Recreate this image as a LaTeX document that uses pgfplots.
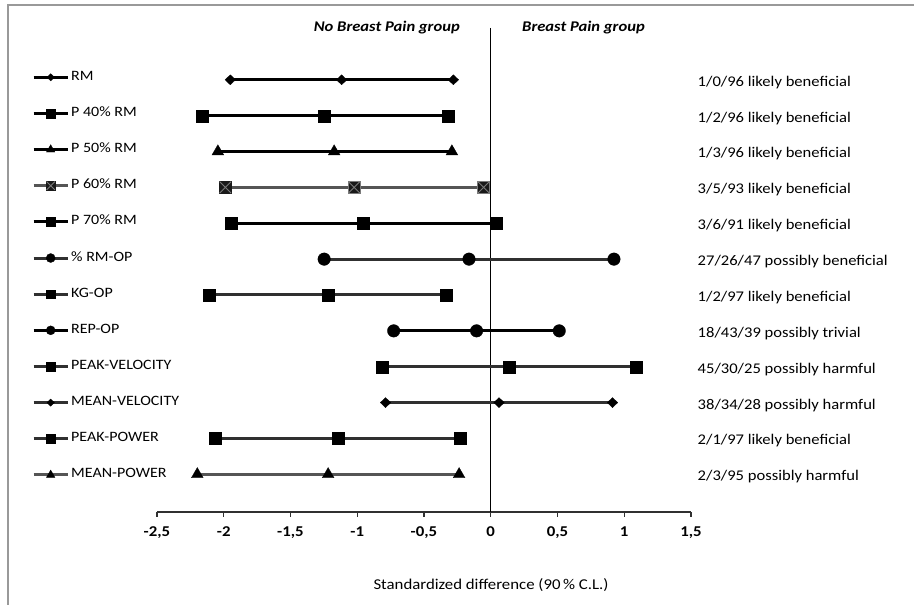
\documentclass[border=0pt]{standalone}
\usepackage{fontspec}
\setmainfont{Carlito}[FakeStretch=1.12]
\usepackage{pgfplots}
\pgfplotsset{compat=1.18}
\usetikzlibrary{plotmarks}
\definecolor{dgray}{HTML}{303030}
\definecolor{mgray}{HTML}{555555}
\definecolor{xgray}{HTML}{7A7A7A}
\newcommand\fs{\fontsize{14.8}{17}\selectfont}
\newcommand\fl{\fontsize{14.3}{16}\selectfont}
\newcommand\ft{\fontsize{15}{17}\selectfont}
\pgfdeclareplotmark{boxx}{%
  \pgfpathrectangle{\pgfqpoint{-\pgfplotmarksize}{-\pgfplotmarksize}}{\pgfqpoint{2\pgfplotmarksize}{2\pgfplotmarksize}}%
  \pgfusepathqfillstroke
  \pgfsetstrokecolor{xgray}%
  \pgfsetlinewidth{0.9pt}%
  \pgfpathmoveto{\pgfqpoint{-\pgfplotmarksize}{-\pgfplotmarksize}}%
  \pgfpathlineto{\pgfqpoint{\pgfplotmarksize}{\pgfplotmarksize}}%
  \pgfpathmoveto{\pgfqpoint{-\pgfplotmarksize}{\pgfplotmarksize}}%
  \pgfpathlineto{\pgfqpoint{\pgfplotmarksize}{-\pgfplotmarksize}}%
  \pgfusepathqstroke}
\pgfplotsset{
  ser/.style={line width=3pt},
  dia/.style={ser, mark=diamond*, mark size=5pt, mark options={solid, line width=0.3pt, xscale=1.4}},
  sq/.style={ser, mark=square*, mark size=6pt, mark options={solid, line width=0.3pt}},
  tri/.style={ser, mark=triangle*, mark size=6.8pt, mark options={solid, line width=0.3pt}},
  cir/.style={ser, mark=*, mark size=6.3pt, mark options={solid, line width=0.3pt}},
}
\begin{document}
\begin{tikzpicture}[font=\fs]
\useasboundingbox (0,0) rectangle (914pt,605pt);
\draw[black!40, line width=1.3pt] (8pt,0pt) -- (8pt,600pt) -- (914pt,600pt);
\begin{axis}[
  at={(157pt,93pt)}, anchor=south west, scale only axis,
  width=534pt, height=484pt,
  xmin=-2.5, xmax=1.5, ymin=-13.05, ymax=0.444,
  axis x line*=bottom, axis y line=none,
  x axis line style={line width=1.2pt, dgray},
  xtick={-2.5,-2,-1.5,-1,-0.5,0,0.5,1,1.5},
  xticklabels={{-2,5},{-2},{-1,5},{-1},{-0,5},{0},{0,5},{1},{1,5}},
  xticklabel style={font=\ft\bfseries, yshift=-6pt},
  tick align=outside, major tick length=5pt,
  every tick/.style={dgray, line width=1.2pt},
  clip=false,
  legend cell align=left,
  legend style={at={(-0.2341,0.911)}, anchor=north west, draw=none, fill=none,
    inner sep=0pt, row sep=24.15pt, column sep=2pt, font=\fl,
    nodes={inner sep=0pt, text height=9pt, text depth=3pt}},
  legend image code/.code={%
    \draw[mark repeat=2,mark phase=2,#1, every mark/.append style={scale=0.72}] plot coordinates {(0pt,0pt) (17pt,0pt) (34pt,0pt)};},
]
\addplot[forget plot, black, line width=1.3pt] coordinates {(0,0.444) (0,-13.05)};
\addplot[dia, black] coordinates {(-1.951,-1) (-1.117,-1) (-0.280,-1)};
\addlegendentry{RM}
\addplot[sq, black] coordinates {(-2.165,-2) (-1.248,-2) (-0.320,-2)};
\addlegendentry{P 40\% RM}
\addplot[tri, black] coordinates {(-2.044,-3) (-1.173,-3) (-0.291,-3)};
\addlegendentry{P 50\% RM}
\addplot[ser, mgray, mark=boxx, mark size=5.8pt, mark options={solid, line width=0.3pt, fill=black!90, draw=black!90}] coordinates {(-1.988,-4) (-1.023,-4) (-0.053,-4)};
\addlegendentry{P 60\% RM}
\addplot[sq, black] coordinates {(-1.948,-5) (-0.954,-5) (0.040,-5)};
\addlegendentry{P 70\% RM}
\addplot[cir, dgray, mark options={solid, line width=0.3pt, fill=black, draw=black}] coordinates {(-1.248,-6) (-0.163,-6) (0.923,-6)};
\addlegendentry{\% RM-OP}
\addplot[sq, dgray, mark options={solid, line width=0.3pt, fill=black, draw=black}] coordinates {(-2.109,-7) (-1.221,-7) (-0.334,-7)};
\addlegendentry{KG-OP}
\addplot[cir, black] coordinates {(-0.727,-8) (-0.106,-8) (0.513,-8)};
\addlegendentry{REP-OP}
\addplot[sq, dgray, mark options={solid, line width=0.3pt, fill=black, draw=black}] coordinates {(-0.817,-9) (0.137,-9) (1.086,-9)};
\addlegendentry{PEAK-VELOCITY}
\addplot[dia, dgray, mark options={solid, line width=0.3pt, fill=black, draw=black, xscale=1.4}] coordinates {(-0.788,-10) (0.062,-10) (0.912,-10)};
\addlegendentry{MEAN-VELOCITY}
\addplot[sq, dgray, mark options={solid, line width=0.3pt, fill=black, draw=black}] coordinates {(-2.061,-11) (-1.144,-11) (-0.229,-11)};
\addlegendentry{PEAK-POWER}
\addplot[tri, mgray, mark options={solid, line width=0.3pt, fill=black, draw=black}] coordinates {(-2.198,-12) (-1.218,-12) (-0.237,-12)};
\addlegendentry{MEAN-POWER}
\foreach \i/\t in {1/{1/0/96 likely beneficial},2/{1/2/96 likely beneficial},3/{1/3/96 likely beneficial},4/{3/5/93 likely beneficial},5/{3/6/91 likely beneficial},6/{27/26/47 possibly beneficial},7/{1/2/97 likely beneficial},8/{18/43/39 possibly trivial},9/{45/30/25 possibly harmful},10/{38/34/28 possibly harmful},11/{2/1/97 likely beneficial},12/{2/3/95 possibly harmful}}{
  \edef\temp{\noexpand\node[anchor=west, inner sep=0pt, xshift=6.5pt, yshift=-2.5pt] at (axis cs:1.5,-\i) {\t};}
  \temp
}
\end{axis}
\node[anchor=east, inner sep=0pt, font=\fs\bfseries\itshape] at (460pt,577pt) {No Breast Pain group};
\node[anchor=west, inner sep=0pt, font=\fs\bfseries\itshape] at (522pt,577pt) {Breast Pain group};
\node[inner sep=0pt, font=\ft] at (491pt,20pt) {Standardized difference (90\,\% C.L.)};
\end{tikzpicture}
\end{document}
